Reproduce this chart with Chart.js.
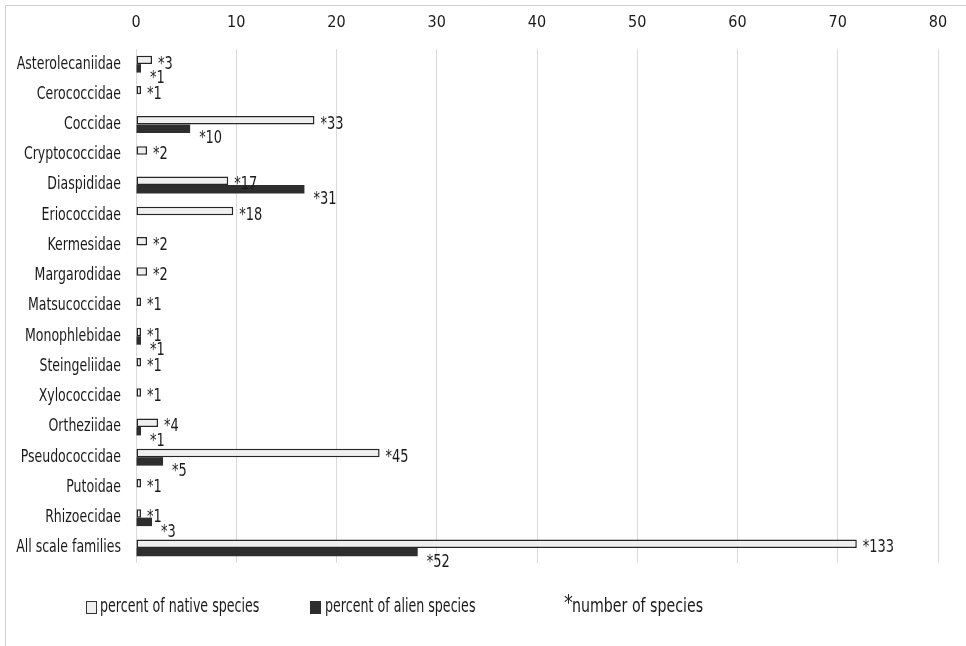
<!DOCTYPE html>
<html><head><meta charset="utf-8">
<script src="https://cdn.jsdelivr.net/npm/chart.js@4.4.1/dist/chart.umd.min.js"></script>
<style>html,body{margin:0;padding:0;background:#fff;}canvas{display:block;}</style>
</head><body>
<canvas id="c" width="966" height="646"></canvas>
<script>
const families = ['Asterolecaniidae','Cerococcidae','Coccidae','Cryptococcidae','Diaspididae','Eriococcidae','Kermesidae','Margarodidae','Matsucoccidae','Monophlebidae','Steingeliidae','Xylococcidae','Ortheziidae','Pseudococcidae','Putoidae','Rhizoecidae','All scale families'];
const nativePercent = [1.6,0.5,17.8,1.1,9.2,9.7,1.1,1.1,0.5,0.5,0.5,0.5,2.2,24.3,0.5,0.5,71.9];
const alienPercent  = [0.5,null,5.4,null,16.8,null,null,null,null,0.5,null,null,0.5,2.7,null,1.6,28.1];
const nativeCounts  = [3,1,33,2,17,18,2,2,1,1,1,1,4,45,1,1,133];
const alienCounts   = [1,null,10,null,31,null,null,null,null,1,null,null,1,5,null,3,52];
const xTicks = [0,10,20,30,40,50,60,70,80];
const seriesNames = ['percent of native species','percent of alien species'];
const noteLabel = 'number of species';

const FONT = "'Liberation Sans Narrow','DejaVu Sans Condensed','Liberation Sans',sans-serif";
const TXT = '#1a1a1a';

function squeezedText(c, text, x, y, sx){
  c.save(); c.translate(x, y); c.scale(sx, 1); c.fillText(text, 0, 0); c.restore();
}

const frame = {
  id:'frame',
  beforeDraw(chart){
    const c = chart.ctx; c.save();
    c.strokeStyle = '#cfcfcf'; c.lineWidth = 1;
    c.beginPath(); c.moveTo(5.5, 646); c.lineTo(5.5, 5.5); c.lineTo(966, 5.5); c.stroke();
    c.restore();
  }
};

const categoryLabels = {
  id:'categoryLabels',
  afterDraw(chart){
    const c = chart.ctx, ys = chart.scales.y; c.save();
    c.font = '17px ' + FONT; c.fillStyle = TXT; c.textBaseline = 'middle'; c.textAlign = 'right';
    chart.data.labels.forEach((lab, i) => {
      squeezedText(c, lab, chart.chartArea.left - 15, ys.getPixelForTick(i), 0.82);
    });
    c.restore();
  }
};

const countLabels = {
  id:'countLabels',
  afterDatasetsDraw(chart){
    const c = chart.ctx; c.save();
    c.font = '18px ' + FONT; c.fillStyle = TXT; c.textBaseline = 'middle'; c.textAlign = 'left';
    const counts = [nativeCounts, alienCounts];
    chart.data.datasets.forEach((ds, di) => {
      const meta = chart.getDatasetMeta(di);
      meta.data.forEach((el, i) => {
        const n = counts[di][i];
        if (n == null || ds.data[i] == null) return;
        const dx = di === 0 ? 6 : 9;
        const dy = di === 0 ? 4 : 10;
        squeezedText(c, '*' + n, el.x + dx, el.y + dy, 0.8);
      });
    });
    c.restore();
  }
};

const customLegend = {
  id:'customLegend',
  afterDraw(chart){
    const c = chart.ctx; c.save();
    const ds = chart.data.datasets;
    const y = 607;
    c.font = '19px ' + FONT; c.textBaseline = 'middle'; c.textAlign = 'left';
    c.fillStyle = ds[0].backgroundColor; c.strokeStyle = '#333'; c.lineWidth = 1;
    c.fillRect(86.5, 601.5, 10, 12); c.strokeRect(86.5, 601.5, 10, 12);
    c.fillStyle = TXT; squeezedText(c, ds[0].label, 100, y, 0.74);
    c.fillStyle = ds[1].backgroundColor;
    c.fillRect(310, 601, 11, 13);
    c.fillStyle = TXT; squeezedText(c, ds[1].label, 325, y, 0.74);
    c.font = '22px ' + FONT; squeezedText(c, '*', 564, y - 3, 0.9);
    c.font = '19px ' + FONT; squeezedText(c, noteLabel, 572, y, 0.83);
    c.restore();
  }
};

new Chart(document.getElementById('c'), {
  type:'bar',
  data:{
    labels: families,
    datasets:[
      {label: seriesNames[0], data: nativePercent, backgroundColor:'#efefef', borderColor:'#262626', borderWidth:1.5, borderSkipped:false},
      {label: seriesNames[1], data: alienPercent, backgroundColor:'#2e2e2e', borderColor:'#2e2e2e', borderWidth:0}
    ]
  },
  options:{
    indexAxis:'y',
    responsive:false,
    animation:false,
    devicePixelRatio:1,
    categoryPercentage:0.56,
    barPercentage:1,
    layout:{padding:{left:0, right:28, top:12, bottom:83}},
    plugins:{legend:{display:false}, tooltip:{enabled:false}},
    scales:{
      x:{
        position:'top', min:0, max:80,
        afterBuildTicks(s){ s.ticks = xTicks.map(v => ({value:v})); },
        afterFit(s){ s.height = 37; },
        grid:{color:'#d9d9d9', lineWidth:1, drawTicks:false},
        border:{display:false},
        ticks:{padding:17, color:TXT, font:{family:FONT, size:16}}
      },
      y:{
        afterFit(s){ s.width = 136; },
        grid:{display:false, drawTicks:false},
        border:{display:false},
        ticks:{display:false}
      }
    }
  },
  plugins:[frame, categoryLabels, countLabels, customLegend]
});
</script>
</body></html>
